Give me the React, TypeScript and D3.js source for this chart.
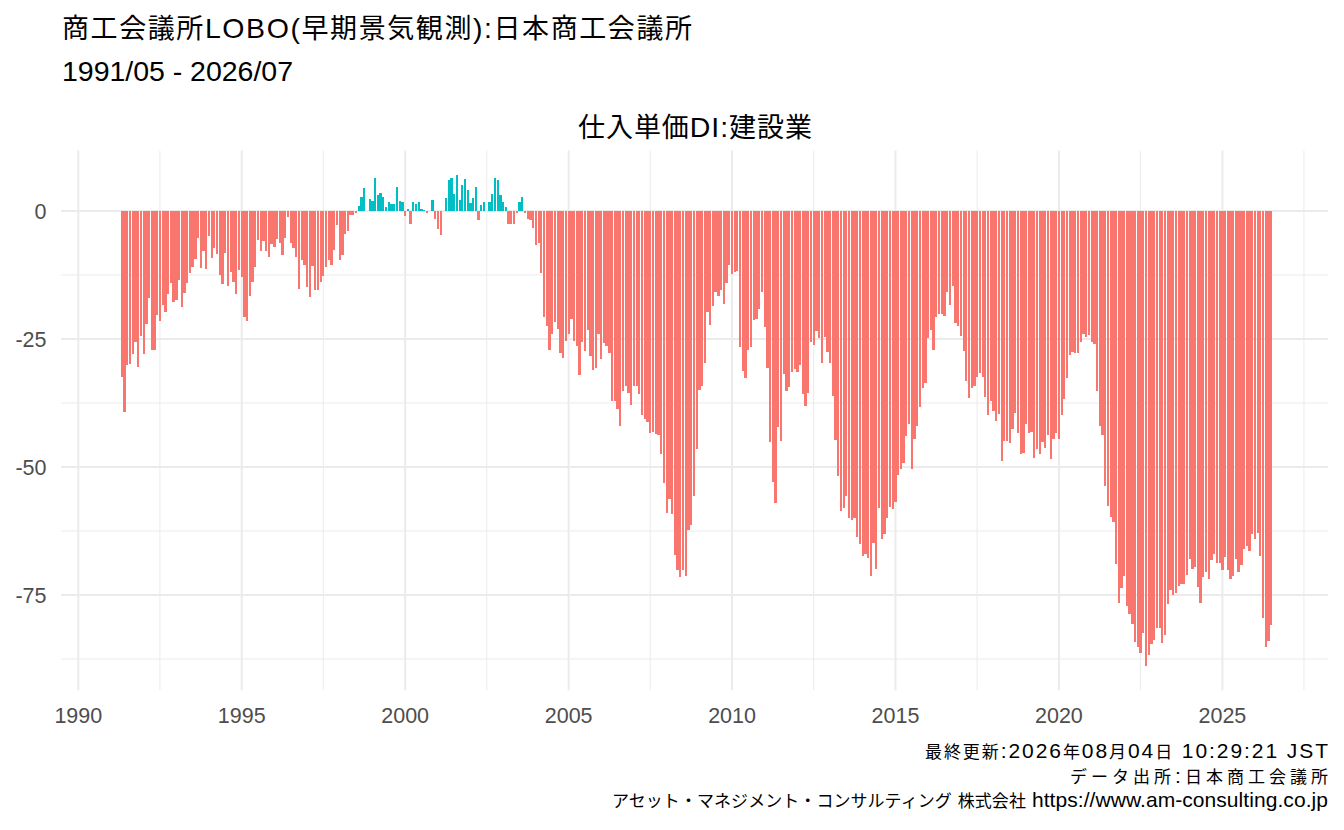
import React from "react";
import * as d3 from "d3";

// ---- data (monthly, 1991/05 - 2026/07) ----
const startYear = 1991;
const startMonth = 5;

const values1991to1994 = [
  -32.4, -39.3, -30.0, -29.8, -27.9, -25.5, -30.5, -24.4, -27.9, -22.1, -17.0, -27.1, -27.1, -20.4, -21.5,
  -18.4, -19.7, -16.2, -14.1, -17.8, -17.4, -13.5, -18.8, -16.0, -14.1, -12.1, -10.9, -9.4, -5.3, -11.1,
  -7.8, -11.3, -4.9, -9.2, -7.3, -8.4, -12.5, -14.3, -8.2, -14.6, -11.9, -13.9, -16.2,
];
const values1994to1998 = [
  -11.5, -12.9, -20.7, -21.5, -16.6, -13.9, -10.9, -5.7, -7.8, -5.9, -7.8, -9.0, -6.4, -7.0, -5.5, -6.3,
  -8.6, -5.3, -1.2, -6.3, -7.2, -9.0, -15.2, -9.6, -10.5, -14.8, -16.8, -10.7, -15.4, -15.4, -13.9, -12.7,
  -10.9, -9.6, -10.5, -7.6, -2.7, -9.6, -8.6, -4.5, -3.9, -0.8, -0.8, -0.4,
];
const values1998to2002 = [
  0.9, 2.7, 4.4, 0, 2.3, 1.9, 6.4, 3.1, 3.6, 2.7, 0.7, 1.7, 1.3, 1.3, 4.6, 1.9, 1.7, -1.0, 0.3, -2.5, 1.7,
  1.3, 1.7, 0.3, 0.1, -0.4, 0, 2.1, -1.6, -3.5, -4.7, 0, 2.5, 6.0, 6.4, 3.3, 7.0, 2.1, 5.0, 6.2, 4.0, 1.5,
  2.5, 4.6,
];
const values2002to2005 = [
  -1.8, 1.1, 1.7, 0, 1.7, 3.3, 6.4, 6.0, 3.1, 1.7, 0.7, -2.5, -2.5, -2.5, -0.4, 1.7, 2.7, -0.4, -1.6, -1.8,
  -3.3, -6.6, -6.3, -12.1, -20.7, -22.5, -27.1, -24.0, -21.7, -23.0, -27.7, -28.7, -25.4, -24.0, -21.1,
  -25.4, -26.4, -32.0, -25.6, -27.3, -23.2, -28.3, -31.1, -30.7,
];
const values2005to2008 = [
  -24.0, -29.0, -25.8, -26.3, -27.7, -37.2, -37.2, -38.6, -41.9, -35.1, -34.1, -35.5, -37.8, -34.1, -34.1,
  -35.7, -39.8, -40.6, -41.3, -43.3, -43.1, -43.5, -43.7, -47.4, -53.1, -58.9, -56.2, -59.1, -67.1, -70.1,
  -71.4, -70.2, -71.2, -62.4, -61.3,
];
const values2008to2011 = [
  -55.6, -46.4, -34.9, -34.1, -29.6, -19.7, -22.2, -18.5, -15.8, -16.7, -15.4, -18.1, -14.0, -10.5, -12.4,
  -12.0, -11.7, -26.5, -31.2, -32.7, -27.1, -26.5, -21.2, -21.0, -19.1, -15.9, -22.6, -30.6, -45.2, -52.9,
  -57.0, -42.1, -44.9, -31.8, -35.1,
];
const values2011to2014 = [
  -34.3, -31.4, -30.8, -31.4, -30.0, -35.7, -38.0, -35.5, -25.5, -26.1, -23.4, -24.9, -29.6, -24.7, -27.5,
  -29.6, -36.1, -44.7, -51.7, -58.5, -58.1, -55.6, -59.9, -60.3, -59.9, -63.6, -65.0, -67.3, -66.9, -67.7,
  -71.2, -64.8, -69.9, -58.1, -64.0,
];
const values2014to2017 = [
  -63.0, -59.9, -57.9, -58.3, -56.8, -51.5, -50.3, -49.3, -43.9, -41.7, -50.3, -44.5, -41.9, -38.2, -34.5,
  -33.5, -24.9, -23.2, -27.1, -20.8, -20.1, -20.1, -20.6, -15.8, -18.3, -14.6, -21.8, -22.4, -24.5, -27.3,
  -33.3, -36.5, -34.5, -34.1,
];
const values2017to2020 = [
  -32.4, -31.6, -32.4, -36.3, -39.8, -37.2, -39.0, -41.1, -39.6, -48.8, -44.9, -44.9, -45.4, -42.5, -39.4,
  -43.3, -47.4, -47.2, -41.7, -43.3, -43.1, -48.2, -46.4, -47.4, -45.2, -46.2, -43.7, -48.4, -44.5, -43.3,
  -44.5, -39.8, -36.8, -32.6, -28.1, -27.5, -27.7,
];
const values2020to2023 = [
  -27.7, -25.5, -24.0, -24.7, -24.3, -25.5, -25.9, -35.1, -41.9, -43.7, -53.8, -57.6, -59.7, -60.7, -68.9,
  -76.5, -73.6, -71.2, -77.1, -78.8, -80.6, -84.1, -85.1, -86.3, -82.4, -88.8, -86.7, -84.5, -83.7, -81.4,
  -81.4, -84.3, -82.9, -76.7, -74.0, -75.0, -74.7,
];
const values2023to2026 = [
  -73.2, -72.8, -72.8, -71.0, -67.9, -69.9, -69.5, -73.4, -76.5, -71.4, -70.6, -71.8, -68.1, -66.9, -68.7,
  -68.7, -70.1, -67.5, -70.2, -71.8, -71.2, -67.9, -70.6, -69.1, -66.1, -65.4, -66.5, -63.0, -64.0, -62.8,
  -67.3, -79.4, -85.1, -83.9, -80.8,
];

const yTicks = [-75, -50, -25, 0];
const yMinor = [-87.5, -62.5, -37.5, -12.5, 12.5];
const xTickYears = [1990, 1995, 2000, 2005, 2010, 2015, 2020, 2025];
const xMinorYears = [1987.5, 1992.5, 1997.5, 2002.5, 2007.5, 2012.5, 2017.5, 2022.5, 2027.5];

const title1 = "商工会議所LOBO(早期景気観測):日本商工会議所";
const title2 = "1991/05 - 2026/07";
const subtitle = "仕入単価DI:建設業";
const captions = [
  "最終更新:2026年08月04日 10:29:21 JST",
  "データ出所:日本商工会議所",
  "アセット・マネジメント・コンサルティング 株式会社 https://www.am-consulting.co.jp",
];

const posColor = "#00BFC4";
const negColor = "#F8766D";
const FONT = "'Liberation Sans', Arial, 'Noto Sans CJK JP', sans-serif";

const cjkRe = /[\u3000-\u9fff\uff00-\uffef]/;
function splitRuns(s: string): { t: string; cjk: boolean }[] {
  const runs: { t: string; cjk: boolean }[] = [];
  for (const ch of s) {
    const c = cjkRe.test(ch);
    if (runs.length && runs[runs.length - 1].cjk === c) runs[runs.length - 1].t += ch;
    else runs.push({ t: ch, cjk: c });
  }
  return runs;
}

function MixedText(props: {
  x: number; y: number; text: string; cjkSize: number; latinSize: number;
  anchor?: "start" | "middle" | "end"; width?: number;
}) {
  const runs = splitRuns(props.text);
  return (
    <text x={props.x} y={props.y} textAnchor={props.anchor || "start"} fill="#000"
      textLength={props.width} lengthAdjust={props.width ? "spacing" : undefined}>
      {runs.map((r, i) => (
        <tspan key={i} fontSize={r.cjk ? props.cjkSize : props.latinSize}>{r.t}</tspan>
      ))}
    </text>
  );
}

export default function App() {
  const values = [
    ...values1991to1994, ...values1994to1998, ...values1998to2002, ...values2002to2005,
    ...values2005to2008, ...values2008to2011, ...values2011to2014, ...values2014to2017,
    ...values2017to2020, ...values2020to2023, ...values2023to2026,
  ];
  const data = values.map((v, i) => ({ date: new Date(startYear, startMonth - 1 + i, 1), v }));

  const W = 1344, H = 830;
  const left = 63, right = 1330, top = 150.6, bottom = 690.2;
  const gridL = 61, gridR = 1328;

  const dayMs = 86400000;
  const barDays = 28 * 0.9;
  const x0 = +data[0].date - (barDays / 2) * dayMs;
  const x1 = +data[data.length - 1].date + (barDays / 2) * dayMs;
  const xs = x1 - x0;
  const x = d3.scaleTime().domain([new Date(x0 - 0.05 * xs), new Date(x1 + 0.05 * xs)]).range([left, right]);

  const vmin = Math.min(0, d3.min(values)!);
  const vmax = Math.max(0, d3.max(values)!);
  const vs = vmax - vmin;
  const y = d3.scaleLinear().domain([vmin - 0.05 * vs, vmax + 0.05 * vs]).range([bottom, top]);

  const barW = x(new Date(+data[0].date + barDays * dayMs)) - x(data[0].date);
  const yearDate = (yr: number) => new Date(Math.floor(yr), (yr % 1) * 12, 1);

  return (
    <svg width={W} height={H} style={{ position: "absolute", left: 0, top: 0, background: "#fff" }} fontFamily={FONT}>
      <rect x={0} y={0} width={W} height={H} fill="#fff" />
      {/* grid */}
      {yMinor.filter((t) => y(t) >= top && y(t) <= bottom).map((t) => (
        <line key={"ym" + t} x1={gridL} x2={gridR} y1={y(t)} y2={y(t)} stroke="#EBEBEB" strokeWidth={1} />
      ))}
      {xMinorYears.filter((t) => x(yearDate(t)) >= gridL && x(yearDate(t)) <= gridR).map((t) => (
        <line key={"xm" + t} x1={x(yearDate(t))} x2={x(yearDate(t))} y1={top} y2={bottom} stroke="#EBEBEB" strokeWidth={1} />
      ))}
      {yTicks.map((t) => (
        <line key={"yt" + t} x1={gridL} x2={gridR} y1={y(t)} y2={y(t)} stroke="#EBEBEB" strokeWidth={2} />
      ))}
      {xTickYears.map((t) => (
        <line key={"xt" + t} x1={x(yearDate(t))} x2={x(yearDate(t))} y1={top} y2={bottom} stroke="#EBEBEB" strokeWidth={2} />
      ))}
      {/* bars */}
      <g shapeRendering="crispEdges">
        {data.map((d, i) => {
          const cx = x(d.date);
          const y0 = y(0), yv = y(d.v);
          return (
            <rect key={i} x={cx - barW / 2} width={barW} y={Math.min(y0, yv)} height={Math.max(0.01, Math.abs(yv - y0))}
              fill={d.v > 0 ? posColor : negColor} />
          );
        })}
      </g>
      {/* axes labels */}
      {yTicks.map((t) => (
        <text key={"yl" + t} x={46.5} y={y(t)} dy="0.36em" textAnchor="end" fontSize={21.5} fill="#4D4D4D">{t}</text>
      ))}
      {xTickYears.map((t) => (
        <text key={"xl" + t} x={x(yearDate(t))} y={722.5} textAnchor="middle" fontSize={21.5} fill="#4D4D4D">{t}</text>
      ))}
      {/* titles */}
      <MixedText x={62} y={38} text={title1} cjkSize={27} latinSize={28.5} width={630} />
      <MixedText x={62} y={81} text={title2} cjkSize={27} latinSize={28.5} width={231} />
      <MixedText x={(578 + 812) / 2} y={137} text={subtitle} cjkSize={27} latinSize={28.5} anchor="middle" width={234} />
      {captions.map((c, i) => (
        <MixedText key={"c" + i} x={1328} y={758 + i * 24.5} text={c} cjkSize={17} latinSize={21}
          anchor="end" width={[403, 258, 716][i]} />
      ))}
    </svg>
  );
}
